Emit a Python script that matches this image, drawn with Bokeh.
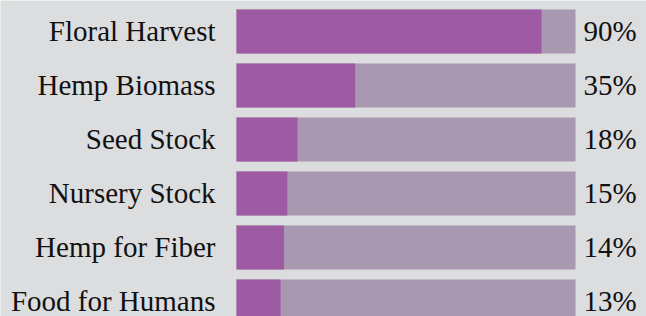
from bokeh.plotting import figure
from bokeh.models import ColumnDataSource, Range1d
from bokeh.core.properties import value
from bokeh.embed import file_html
from bokeh.resources import INLINE

categories = ["Floral Harvest", "Hemp Biomass", "Seed Stock", "Nursery Stock", "Hemp for Fiber", "Food for Humans"]
percents = [90, 35, 18, 15, 14, 13]
totals = [100, 100, 100, 100, 100, 100]

rows = list(range(len(categories)))
src = ColumnDataSource(dict(
    y=rows,
    cat=categories,
    pct=percents,
    total=totals,
    zero=[0] * len(rows),
    pct_label=[f"{v}%" for v in percents],
))

W, H = 646, 316
px_per_unit = 3.39
x0_px = 236
row_px = 54
top_px = 31

p = figure(width=W, height=H, output_backend="svg", toolbar_location=None,
           x_range=Range1d(-x0_px / px_per_unit, (W - x0_px) / px_per_unit),
           y_range=Range1d((H - top_px) / row_px, -top_px / row_px),
           min_border=0, outline_line_color=None,
           background_fill_color="#dcdddf", border_fill_color="#dcdddf")
p.axis.visible = False
p.grid.visible = False

bar_h = 44 / row_px
p.hbar(y="y", left="zero", right="total", height=bar_h, source=src,
       fill_color="#a898b0", line_color=None)
p.hbar(y="y", left="zero", right="pct", height=bar_h, source=src,
       fill_color="#9f5aa4", line_color=None)

p.text(x="zero", y="y", text="cat", source=src, x_offset=-21, y_offset=-1,
       text_align="right", text_baseline="middle",
       text_font=value("Liberation Serif"), text_font_size="29px", text_color="#111111")
p.text(x="total", y="y", text="pct_label", source=src, x_offset=8, y_offset=-1,
       text_align="left", text_baseline="middle",
       text_font=value("Liberation Serif"), text_font_size="29px", text_color="#111111")

open("out.html", "w").write(file_html(p, INLINE))
